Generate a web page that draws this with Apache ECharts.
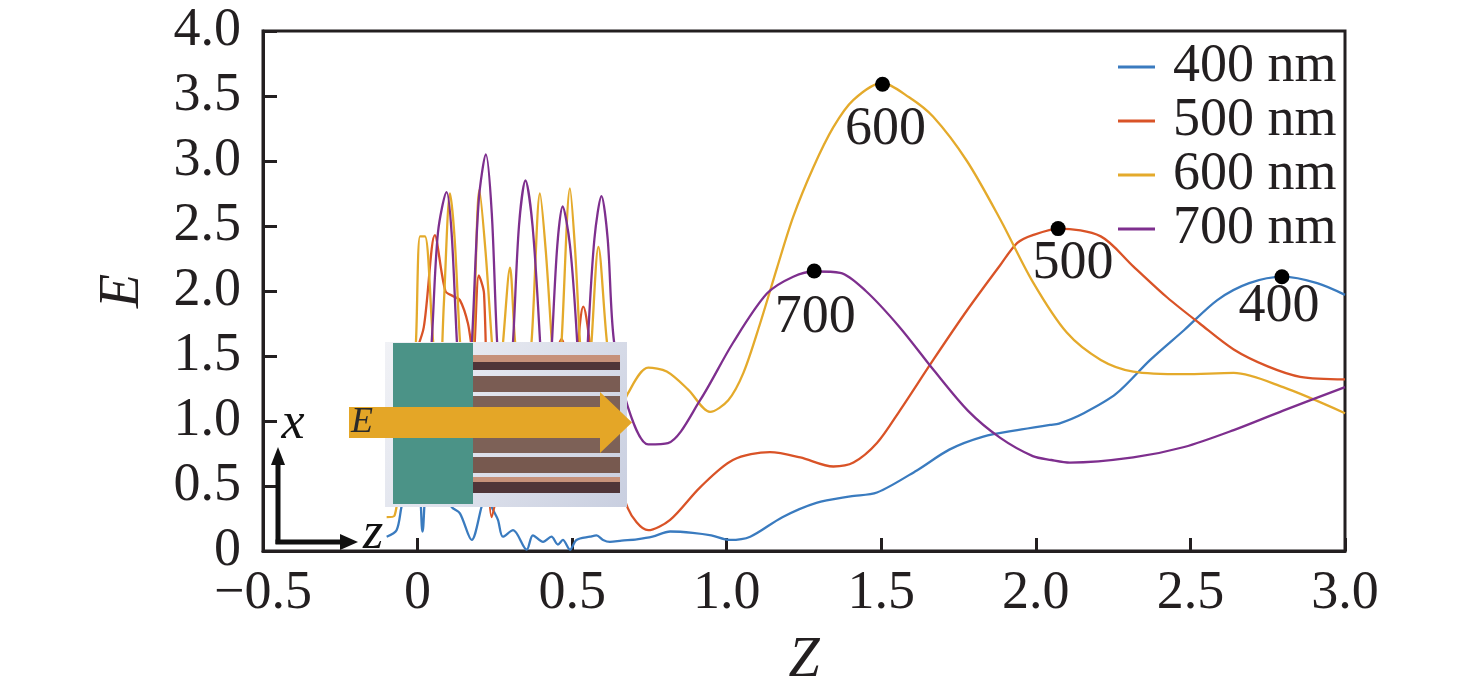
<!DOCTYPE html>
<html><head><meta charset="utf-8">
<script src="https://cdn.jsdelivr.net/npm/echarts/dist/echarts.min.js"></script>
<style>html,body{margin:0;padding:0;background:#fff}#chart{width:1476px;height:695px}</style>
</head><body><div id="chart"></div>
<script>
// ---------- data ----------
const seriesNames = ['400 nm', '500 nm', '600 nm', '700 nm'];

const z400 = [-0.10, -0.068, -0.052, -0.03, 0.0, 0.016, 0.035, 0.07, 0.11, 0.137, 0.175, 0.207, 0.225, 0.24, 0.26, 0.276, 0.309, 0.353, 0.373, 0.406, 0.433, 0.454, 0.47, 0.493, 0.514, 0.558, 0.579, 0.60, 0.622, 0.66, 0.709, 0.76, 0.817, 0.89, 0.95, 1.01, 1.076, 1.18, 1.29, 1.40, 1.486, 1.615, 1.72, 1.83, 1.94, 2.046, 2.075, 2.155, 2.26, 2.37, 2.48, 2.587, 2.69, 2.80, 2.91, 3.0];
const e400 = [0.11, 0.16, 0.34, 0.55, 0.6, 0.15, 0.6, 0.55, 0.34, 0.29, 0.085, 0.34, 0.5, 0.34, 0.24, 0.11, 0.16, 0.01, 0.12, 0.07, 0.11, 0.05, 0.085, 0.01, 0.085, 0.11, 0.12, 0.085, 0.07, 0.08, 0.09, 0.11, 0.15, 0.14, 0.12, 0.085, 0.11, 0.26, 0.37, 0.42, 0.45, 0.62, 0.78, 0.88, 0.93, 0.97, 0.98, 1.06, 1.21, 1.47, 1.70, 1.93, 2.06, 2.11, 2.06, 1.97];

const z500 = [-0.10, -0.05, -0.01, 0.02, 0.056, 0.09, 0.115, 0.137, 0.163, 0.18, 0.198, 0.215, 0.24, 0.28, 0.33, 0.38, 0.43, 0.466, 0.50, 0.536, 0.57, 0.62, 0.68, 0.746, 0.817, 0.914, 1.02, 1.14, 1.238, 1.345, 1.41, 1.486, 1.56, 1.668, 1.777, 1.885, 1.94, 1.99, 2.075, 2.21, 2.315, 2.425, 2.53, 2.64, 2.75, 2.855, 3.0];
const e500 = [0.8, 1.2, 1.5, 1.72, 2.43, 2.0, 1.96, 1.93, 1.75, 1.5, 2.12, 1.98, 0.26, 0.7, 1.2, 0.9, 1.3, 1.63, 1.3, 1.88, 1.4, 0.9, 0.33, 0.16, 0.24, 0.49, 0.70, 0.76, 0.72, 0.65, 0.68, 0.83, 1.08, 1.47, 1.85, 2.2, 2.37, 2.43, 2.48, 2.42, 2.19, 1.95, 1.75, 1.55, 1.42, 1.34, 1.32];

const z600 = [-0.10, -0.075, -0.05, -0.02, -0.005, 0.008, 0.024, 0.05, 0.07, 0.085, 0.105, 0.12, 0.137, 0.158, 0.18, 0.2, 0.22, 0.24, 0.258, 0.277, 0.299, 0.315, 0.342, 0.369, 0.396, 0.415, 0.434, 0.45, 0.466, 0.493, 0.51, 0.525, 0.545, 0.563, 0.585, 0.612, 0.645, 0.68, 0.746, 0.806, 0.876, 0.946, 1.005, 1.054, 1.108, 1.163, 1.215, 1.28, 1.345, 1.41, 1.503, 1.59, 1.668, 1.777, 1.885, 1.99, 2.10, 2.21, 2.315, 2.48, 2.64, 2.80, 3.0];
const e600 = [0.26, 0.27, 0.7, 1.0, 1.62, 2.42, 2.42, 1.62, 1.2, 1.9, 2.75, 2.4, 1.62, 1.0, 1.62, 2.78, 2.3, 1.62, 1.1, 1.62, 2.18, 1.62, 1.0, 1.62, 2.75, 2.3, 1.62, 1.1, 1.62, 2.79, 2.3, 1.62, 1.0, 1.62, 2.34, 1.62, 1.0, 1.21, 1.41, 1.38, 1.24, 1.07, 1.16, 1.37, 1.75, 2.18, 2.57, 2.95, 3.26, 3.47, 3.60, 3.49, 3.34, 3.0, 2.55, 2.07, 1.68, 1.47, 1.38, 1.36, 1.37, 1.26, 1.06];

const z700 = [-0.10, -0.03, 0.02, 0.046, 0.066, 0.094, 0.11, 0.127, 0.15, 0.176, 0.198, 0.221, 0.24, 0.257, 0.283, 0.309, 0.328, 0.349, 0.372, 0.396, 0.415, 0.435, 0.452, 0.469, 0.493, 0.516, 0.534, 0.551, 0.572, 0.595, 0.615, 0.635, 0.68, 0.746, 0.81, 0.914, 1.02, 1.13, 1.215, 1.286, 1.367, 1.45, 1.56, 1.67, 1.78, 1.885, 1.99, 2.05, 2.11, 2.315, 2.48, 2.64, 2.80, 3.0];
const e700 = [0.8, 0.6, 0.7, 1.62, 2.45, 2.76, 2.45, 1.62, 0.7, 1.62, 2.7, 3.05, 2.6, 1.62, 0.7, 1.62, 2.5, 2.85, 2.5, 1.62, 0.7, 1.62, 2.35, 2.65, 2.35, 1.62, 0.7, 1.62, 2.4, 2.73, 2.4, 1.62, 1.11, 0.82, 0.83, 1.16, 1.6, 1.98, 2.11, 2.15, 2.14, 2.0, 1.72, 1.39, 1.08, 0.87, 0.73, 0.70, 0.68, 0.72, 0.80, 0.93, 1.08, 1.26];

const peakZ = [2.796, 2.072, 1.504, 1.283];
const peakE = [2.11, 2.48, 3.59, 2.154];
const peakLabels = ['400', '500', '600', '700'];

const xTickLabels = ['\u22120.5', '0', '0.5', '1.0', '1.5', '2.0', '2.5', '3.0'];
const yTickLabels = ['0', '0.5', '1.0', '1.5', '2.0', '2.5', '3.0', '3.5', '4.0'];

// ---------- styles ----------
const FONT = '"Liberation Serif", "Times New Roman", serif';
const FS = 54;
const INK = '#231f20';
const colors = ['#3a7bbf', '#d95327', '#e4aa2b', '#7e2f8e'];
const peakLabelOffsets = [[-3, -4], [15, 1], [3, 11], [1, 12]];

const X_MIN = -0.5, X_MAX = 3.0, X_INT = 0.5;
const Y_MIN = 0, Y_MAX = 4.0, Y_INT = 0.5;

function zip(a, b) { return a.map((v, i) => [v, b[i]]); }
const lineData = [zip(z400, e400), zip(z500, e500), zip(z600, e600), zip(z700, e700)];

const lineSeries = seriesNames.map((name, i) => ({
  name: name,
  type: 'line',
  data: lineData[i],
  showSymbol: false,
  smooth: 0.3,
  z: 2,
  lineStyle: { color: colors[i], width: 2.3 },
  itemStyle: { color: colors[i] },
  emphasis: { disabled: true }
}));

const peakSeries = {
  name: 'peaks',
  type: 'scatter',
  z: 20,
  symbolSize: 15,
  itemStyle: { color: '#000', opacity: 1 },
  data: peakZ.map((z, i) => ({
    value: [z, peakE[i]],
    label: { offset: peakLabelOffsets[i] }
  })),
  label: {
    show: true,
    position: 'bottom',
    distance: 0,
    formatter: p => peakLabels[p.dataIndex],
    fontFamily: FONT,
    fontSize: FS,
    color: INK,
    opacity: 1,
    textBorderWidth: 0
  },
  emphasis: { disabled: true }
};

// inset figure (decorative picture), pixel-placed
const stripeX = 473, stripeW = 147;
const stripes = [
  [355, 7, '#c6917a'],
  [362, 8, '#4f3538'],
  [376, 16, '#7a5c53'],
  [396, 57, '#7d6157'],
  [457, 16, '#77594f'],
  [477, 5, '#c6917a'],
  [482, 11, '#4f3538']
];
const graphics = [
  { type: 'rect', z: 10, shape: { x: 385, y: 342, width: 242, height: 165 },
    style: { fill: { type: 'linear', x: 0, y: 0, x2: 1, y2: 1,
      colorStops: [{ offset: 0, color: '#f1f2f6' }, { offset: 1, color: '#c9cfe0' }] } } },
  { type: 'rect', z: 11, shape: { x: 393, y: 343, width: 80, height: 161 }, style: { fill: '#4b9387' } }
].concat(stripes.map(s => ({
  type: 'rect', z: 11, shape: { x: stripeX, y: s[0], width: stripeW, height: s[1] }, style: { fill: s[2] }
}))).concat([
  { type: 'polygon', z: 13,
    shape: { points: [[349, 407], [600, 407], [600, 392], [632, 422.5], [600, 453], [600, 438], [349, 438]] },
    style: { fill: '#e4a627' } },
  { type: 'text', z: 14, x: 351, y: 423,
    style: { text: 'E', fontFamily: FONT, fontStyle: 'italic', fontSize: 36, fill: '#2a2a2a', verticalAlign: 'middle', align: 'left' } },
  { type: 'line', z: 14, shape: { x1: 278, y1: 544, x2: 278, y2: 462 }, style: { stroke: '#111', lineWidth: 5 } },
  { type: 'polygon', z: 14, shape: { points: [[271, 465], [285, 465], [278, 447]] }, style: { fill: '#111' } },
  { type: 'line', z: 14, shape: { x1: 275.5, y1: 542, x2: 342, y2: 542 }, style: { stroke: '#111', lineWidth: 5 } },
  { type: 'polygon', z: 14, shape: { points: [[340, 534], [340, 550], [358, 542]] }, style: { fill: '#111' } },
  { type: 'text', z: 14, x: 293, y: 424,
    style: { text: 'x', fontFamily: FONT, fontStyle: 'italic', fontSize: 52, fill: '#111', verticalAlign: 'middle', align: 'center' } },
  { type: 'text', z: 14, x: 373, y: 534,
    style: { text: 'z', fontFamily: FONT, fontStyle: 'italic', fontSize: 52, fill: '#111', verticalAlign: 'middle', align: 'center' } }
]);

const chart = echarts.init(document.getElementById('chart'), null, { renderer: 'canvas' });
chart.setOption({
  animation: false,
  backgroundColor: '#fff',
  grid: {
    left: 263, right: 131, top: 31, bottom: 144,
    show: true, borderColor: INK, borderWidth: 3, backgroundColor: 'transparent',
    containLabel: false, outerBoundsMode: 'none'
  },
  legend: {
    data: seriesNames,
    orient: 'vertical',
    left: 1118, top: 40,
    padding: 0,
    itemGap: 0,
    itemWidth: 37,
    itemHeight: 3,
    icon: 'rect',
    selectedMode: false,
    textStyle: { fontFamily: FONT, fontSize: FS, color: INK, lineHeight: 46.5, padding: [0, 0, 0, 13] }
  },
  xAxis: {
    type: 'value', min: X_MIN, max: X_MAX, interval: X_INT,
    name: 'Z', nameLocation: 'middle', nameGap: 82, nameMoveOverlap: false,
    nameTextStyle: { fontFamily: FONT, fontStyle: 'italic', fontSize: 56, color: INK },
    axisLine: { show: true, onZero: false, lineStyle: { color: INK, width: 3 } },
    axisTick: { show: true, inside: true, length: 13, lineStyle: { color: INK, width: 3 } },
    axisLabel: {
      margin: 16, fontFamily: FONT, fontSize: FS, color: INK, hideOverlap: false,
      showMinLabel: true, showMaxLabel: true,
      formatter: v => xTickLabels[Math.round((v - X_MIN) / X_INT)]
    },
    splitLine: { show: false }
  },
  yAxis: {
    type: 'value', min: Y_MIN, max: Y_MAX, interval: Y_INT,
    name: 'E', nameLocation: 'middle', nameGap: 112, nameRotate: 90, nameMoveOverlap: false,
    nameTextStyle: { fontFamily: FONT, fontStyle: 'italic', fontSize: 56, color: INK },
    axisLine: { show: true, onZero: false, lineStyle: { color: INK, width: 3 } },
    axisTick: { show: true, inside: true, length: 14, lineStyle: { color: INK, width: 3 } },
    axisLabel: {
      margin: 22, fontFamily: FONT, fontSize: FS, color: INK, hideOverlap: false,
      showMinLabel: true, showMaxLabel: true,
      formatter: v => yTickLabels[Math.round((v - Y_MIN) / Y_INT)]
    },
    splitLine: { show: false }
  },
  series: lineSeries.concat([peakSeries]),
  graphic: graphics
});
</script>
</body></html>
